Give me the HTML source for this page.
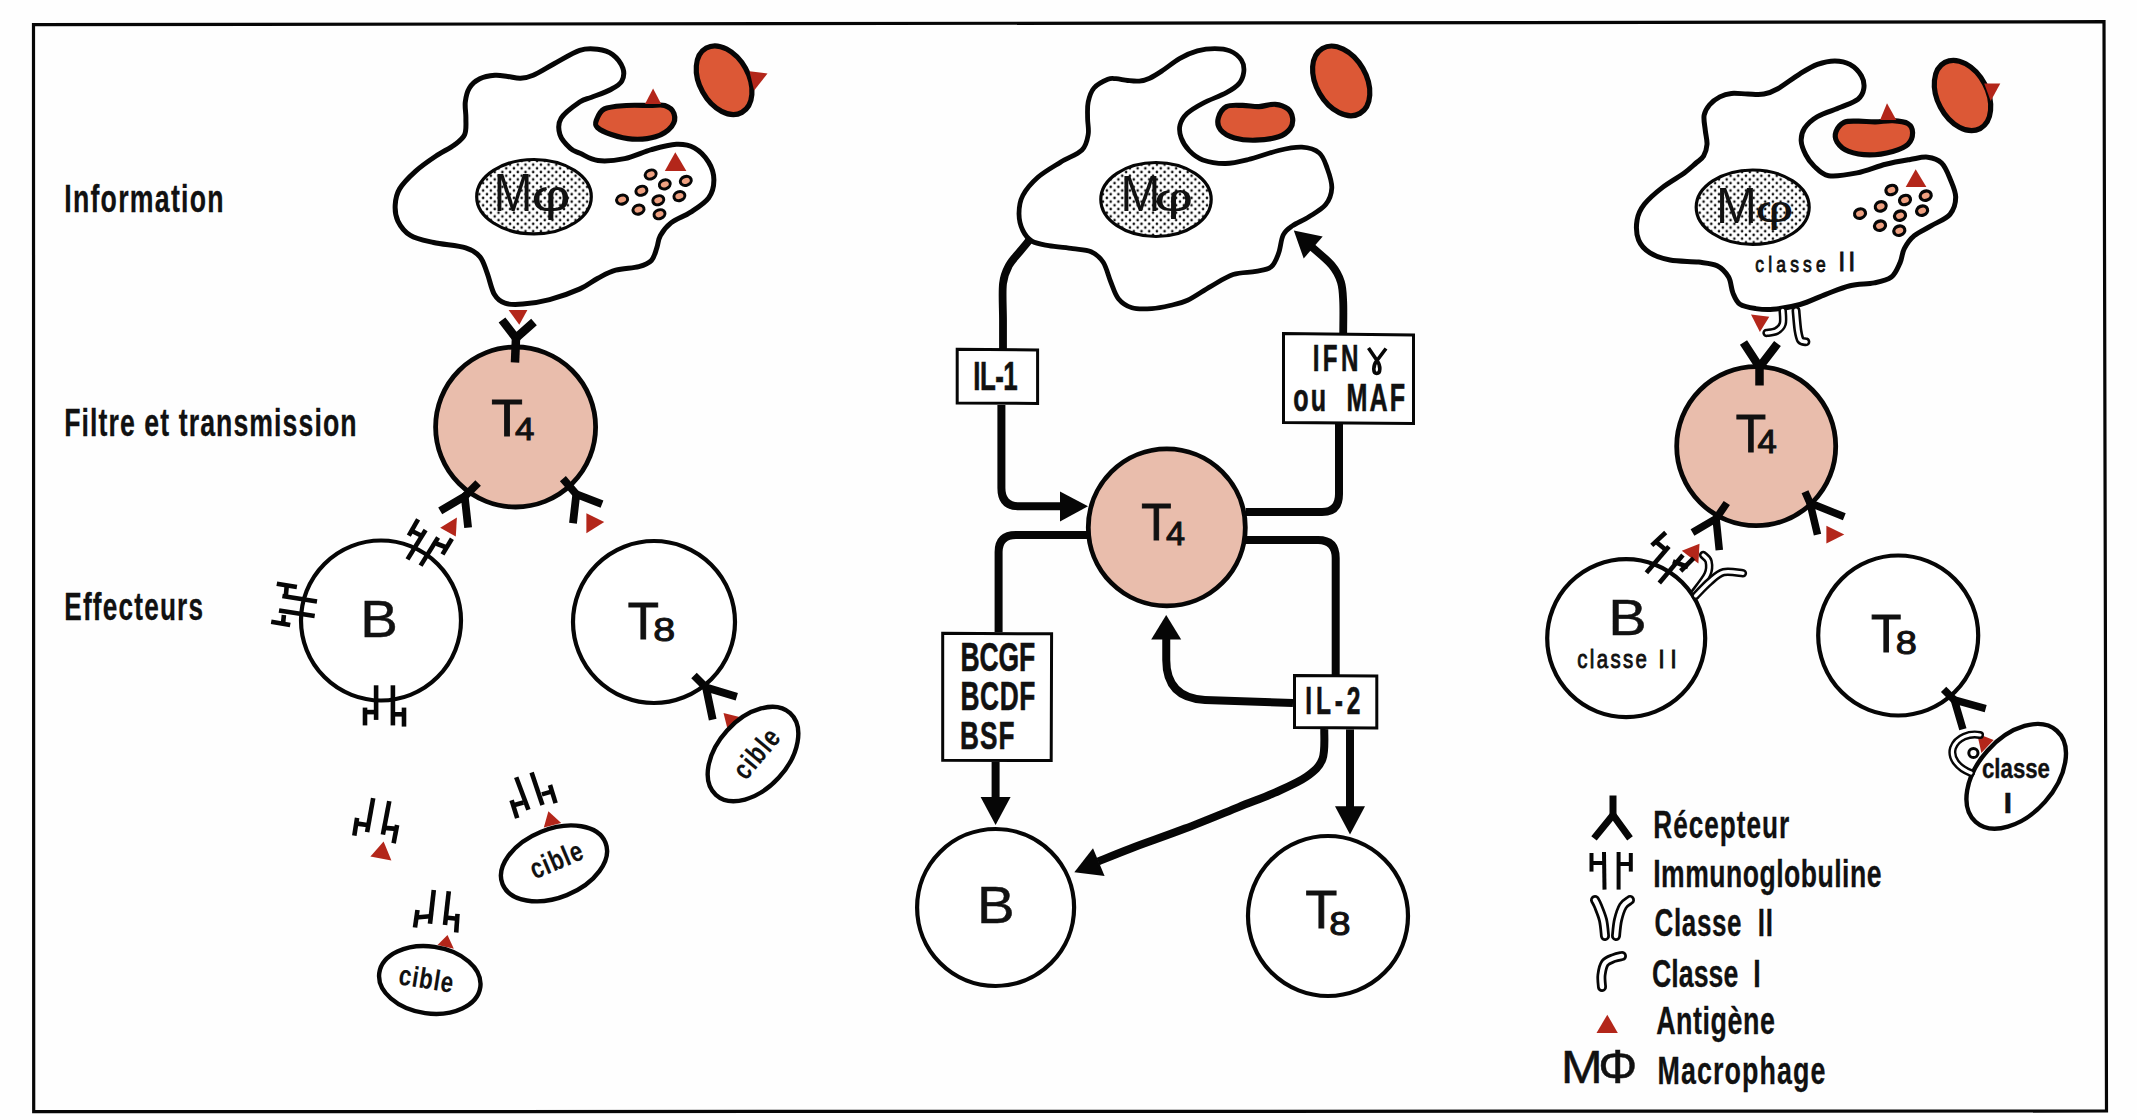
<!DOCTYPE html>
<html><head><meta charset="utf-8"><style>
html,body{margin:0;padding:0;background:#fff;}
svg{display:block;}
text{font-family:"Liberation Sans",sans-serif;font-kerning:none;}
</style></head><body>
<svg width="2137" height="1120" viewBox="0 0 2137 1120">
<defs>
<pattern id="dots" width="7.7" height="7.4" patternUnits="userSpaceOnUse">
<rect width="7.7" height="7.4" fill="#fff"/><circle cx="1.9" cy="1.85" r="1.3" fill="#111"/><circle cx="5.75" cy="5.55" r="1.3" fill="#111"/></pattern>
</defs>
<rect width="2137" height="1120" fill="#fefefe"/>
<polygon points="33.5,24.7 2104,21.7 2106.5,1111 33.7,1111.7" fill="none" stroke="#060606" stroke-width="3.2"/>
<text x="0" y="0" font-size="39.24" font-weight="bold" letter-spacing="1.865" fill="#111" stroke="#111" stroke-width="0.30" transform="translate(64.21 211.60) scale(0.6800 1)">Information</text>
<text x="0" y="0" font-size="39.24" font-weight="bold" letter-spacing="1.579" fill="#111" stroke="#111" stroke-width="0.30" transform="translate(64.21 436.00) scale(0.6800 1)">Filtre et transmission</text>
<text x="0" y="0" font-size="38.52" font-weight="bold" letter-spacing="1.754" fill="#111" stroke="#111" stroke-width="0.30" transform="translate(64.25 620.00) scale(0.6800 1)">Effecteurs</text>
<path d="M465.3,102.0 C465.9,97.0 467.0,91.9 469.4,88.0 C471.8,84.1 475.6,80.9 479.8,78.8 C484.1,76.7 490.2,75.7 494.9,75.3 C499.5,74.9 503.4,75.9 507.7,76.4 C512.0,76.9 516.2,78.4 520.5,78.2 C524.8,78.0 527.6,77.7 533.2,75.3 C538.8,72.9 546.4,67.9 554.1,63.7 C561.9,59.5 572.5,52.7 579.7,50.3 C586.9,47.9 591.9,48.5 597.4,49.2 C602.9,49.9 608.2,51.2 612.5,54.4 C616.8,57.6 621.4,63.8 622.9,68.3 C624.4,72.8 623.7,77.6 621.8,81.1 C619.9,84.6 616.3,86.5 611.3,89.2 C606.3,91.9 596.9,95.2 591.6,97.3 C586.3,99.4 584.8,98.5 579.7,102.0 C574.6,105.5 564.4,112.8 561.1,118.2 C557.8,123.6 558.4,129.5 559.9,134.5 C561.4,139.5 567.0,145.3 570.4,148.4 C573.8,151.5 575.4,151.2 580.0,153.2 C584.6,155.2 590.5,159.6 597.9,160.5 C605.3,161.4 615.7,160.4 624.6,158.6 C633.5,156.8 642.8,152.0 651.4,149.6 C660.0,147.2 669.2,144.6 676.4,144.3 C683.5,144.0 688.9,144.9 694.3,147.9 C699.7,150.9 705.3,156.8 708.6,162.1 C711.9,167.4 713.9,174.0 713.9,180.0 C713.9,186.0 712.5,192.6 708.6,197.9 C704.7,203.2 697.0,207.9 690.7,212.1 C684.4,216.3 676.0,219.0 671.0,222.9 C666.0,226.8 662.8,231.2 660.4,235.4 C658.0,239.6 658.3,243.7 656.8,247.9 C655.3,252.1 654.4,257.3 651.4,260.4 C648.4,263.5 644.8,265.0 638.9,266.6 C633.0,268.2 622.5,268.3 615.7,270.2 C608.9,272.1 603.9,275.1 597.9,278.2 C591.9,281.3 588.0,285.3 580.0,288.9 C572.0,292.5 559.1,297.1 549.6,299.6 C540.1,302.1 530.3,303.5 522.9,304.1 C515.5,304.7 509.8,304.8 505.0,303.2 C500.2,301.6 497.3,299.4 494.3,294.3 C491.3,289.2 489.5,279.1 487.1,272.9 C484.7,266.6 483.6,261.0 480.0,256.8 C476.4,252.6 473.4,250.3 465.7,247.9 C458.0,245.5 442.8,244.6 433.6,242.5 C424.4,240.4 416.3,239.0 410.4,235.4 C404.4,231.8 400.4,226.2 397.9,221.1 C395.4,216.0 394.9,210.4 395.2,205.0 C395.5,199.6 396.2,194.6 399.6,188.9 C403.0,183.2 409.6,176.6 415.7,171.1 C421.8,165.6 429.6,160.3 436.0,156.0 C442.4,151.7 449.5,148.6 454.3,145.0 C459.1,141.4 462.8,139.0 464.7,134.5 C466.6,130.0 465.8,123.6 465.9,118.2 C466.0,112.8 464.7,107.0 465.3,102.0Z" fill="#fff" stroke="#060606" stroke-width="5" stroke-linejoin="round" stroke-linecap="round" />
<ellipse cx="534.0" cy="196.7" rx="57.3" ry="37.2" transform="rotate(0.0 534.0 196.7)" fill="url(#dots)" stroke="#060606" stroke-width="3.2"/>
<text x="493.70" y="210.7" font-size="54.36" font-weight="normal" textLength="38.60" lengthAdjust="spacingAndGlyphs" fill="#111" stroke="#111" stroke-width="0">M</text>
<text x="531.27" y="210.7" font-size="43.60" font-weight="normal" textLength="39.60" lengthAdjust="spacingAndGlyphs" fill="#111" stroke="#111" stroke-width="0">φ</text>
<ellipse cx="650.7" cy="174.5" rx="5.6" ry="4.4" transform="rotate(-20.0 650.7 174.5)" fill="#eea080" stroke="#060606" stroke-width="3"/>
<ellipse cx="664.8" cy="184.4" rx="5.6" ry="4.4" transform="rotate(-20.0 664.8 184.4)" fill="#eea080" stroke="#060606" stroke-width="3"/>
<ellipse cx="685.8" cy="180.9" rx="5.6" ry="4.4" transform="rotate(-20.0 685.8 180.9)" fill="#eea080" stroke="#060606" stroke-width="3"/>
<ellipse cx="641.4" cy="190.8" rx="5.6" ry="4.4" transform="rotate(-20.0 641.4 190.8)" fill="#eea080" stroke="#060606" stroke-width="3"/>
<ellipse cx="622.1" cy="199.6" rx="5.6" ry="4.4" transform="rotate(-20.0 622.1 199.6)" fill="#eea080" stroke="#060606" stroke-width="3"/>
<ellipse cx="658.3" cy="200.2" rx="5.6" ry="4.4" transform="rotate(-20.0 658.3 200.2)" fill="#eea080" stroke="#060606" stroke-width="3"/>
<ellipse cx="679.4" cy="196.1" rx="5.6" ry="4.4" transform="rotate(-20.0 679.4 196.1)" fill="#eea080" stroke="#060606" stroke-width="3"/>
<ellipse cx="638.5" cy="209.6" rx="5.6" ry="4.4" transform="rotate(-20.0 638.5 209.6)" fill="#eea080" stroke="#060606" stroke-width="3"/>
<ellipse cx="659.5" cy="214.2" rx="5.6" ry="4.4" transform="rotate(-20.0 659.5 214.2)" fill="#eea080" stroke="#060606" stroke-width="3"/>
<polygon points="664.8,171.0 686.4,171.0 675.3,152.2" fill="#b3261a" stroke="none" stroke-width="0" stroke-linejoin="round"/>
<path d="M596.3,120.5 C597.5,117.4 599.4,111.4 604.4,108.9 C609.4,106.4 618.9,106.1 626.4,105.5 C633.9,104.9 643.2,105.5 649.6,105.5 C656.0,105.5 660.6,104.2 664.7,105.5 C668.8,106.8 672.8,110.1 674.0,113.6 C675.2,117.1 674.8,122.4 671.7,126.3 C668.6,130.2 662.1,134.7 655.5,136.8 C648.9,138.9 639.6,139.5 632.2,139.1 C624.8,138.7 617.1,136.4 611.3,134.5 C605.5,132.6 599.9,129.8 597.4,127.5 C594.9,125.2 595.1,123.6 596.3,120.5Z" fill="#dc5836" stroke="#060606" stroke-width="5.2" stroke-linejoin="round" stroke-linecap="round" />
<polygon points="645.0,104.0 661.2,104.0 653.1,88.6" fill="#b3261a" stroke="none" stroke-width="0" stroke-linejoin="round"/>
<ellipse cx="724.1" cy="80.2" rx="36.8" ry="24.5" transform="rotate(61.0 724.1 80.2)" fill="#dc5836" stroke="#060606" stroke-width="5.2"/>
<polygon points="749.5,71.2 767.5,73.5 754.1,90.4" fill="#b3261a" stroke="none" stroke-width="0" stroke-linejoin="round"/>
<circle cx="515.6" cy="427.0" r="80.0" fill="#e9bdac" stroke="#060606" stroke-width="4.8"/>
<polygon points="508.6,310.0 527.4,310.0 519.3,324.7" fill="#b3261a" stroke="none" stroke-width="0" stroke-linejoin="round"/>
<polyline points="502.0,320.0 516.0,338.0 534.0,322.0" fill="none" stroke="#060606" stroke-width="8.5" stroke-linecap="butt" stroke-linejoin="miter"/>
<polyline points="516.0,338.0 515.0,362.5" fill="none" stroke="#060606" stroke-width="8.5" stroke-linecap="butt" stroke-linejoin="miter"/>
<text x="491.14" y="436.3" font-size="52.18" font-weight="normal" textLength="31.55" lengthAdjust="spacingAndGlyphs" fill="#111" stroke="#111" stroke-width="1.0">T</text>
<text x="514.90" y="440.0" font-size="31.40" font-weight="normal" textLength="19.42" lengthAdjust="spacingAndGlyphs" fill="#111" stroke="#111" stroke-width="1.0">4</text>
<polyline points="478.1,483.0 464.7,496.4" fill="none" stroke="#060606" stroke-width="7.8" stroke-linecap="butt" stroke-linejoin="miter"/>
<polyline points="440.2,510.9 464.7,496.4 468.1,527.7" fill="none" stroke="#060606" stroke-width="7.8" stroke-linecap="butt" stroke-linejoin="miter"/>
<polyline points="562.9,478.6 576.3,494.2" fill="none" stroke="#060606" stroke-width="7.8" stroke-linecap="butt" stroke-linejoin="miter"/>
<polyline points="602.0,504.2 576.3,494.2 573.0,523.2" fill="none" stroke="#060606" stroke-width="7.8" stroke-linecap="butt" stroke-linejoin="miter"/>
<polygon points="586.4,513.2 586.4,533.3 604.2,522.1" fill="#b3261a" stroke="none" stroke-width="0" stroke-linejoin="round"/>
<polygon points="440.2,527.7 456.9,517.6 455.8,536.6" fill="#b3261a" stroke="none" stroke-width="0" stroke-linejoin="round"/>
<circle cx="381.0" cy="620.5" r="80.0" fill="#fff" stroke="#060606" stroke-width="4.2"/>
<text x="360.38" y="637.0" font-size="51.60" font-weight="normal" textLength="37.60" lengthAdjust="spacingAndGlyphs" fill="#111" stroke="#111" stroke-width="0.5">B</text>
<polyline points="376.1,685.3 376.1,719.9" fill="none" stroke="#060606" stroke-width="4.6" stroke-linecap="butt" stroke-linejoin="miter"/>
<polyline points="392.9,685.3 392.9,725.4" fill="none" stroke="#060606" stroke-width="4.6" stroke-linecap="butt" stroke-linejoin="miter"/>
<polyline points="365.0,712.1 376.1,712.1" fill="none" stroke="#060606" stroke-width="4.6" stroke-linecap="butt" stroke-linejoin="miter"/>
<polyline points="365.0,707.6 365.0,725.4" fill="none" stroke="#060606" stroke-width="4.6" stroke-linecap="butt" stroke-linejoin="miter"/>
<polyline points="392.9,714.3 404.0,714.3" fill="none" stroke="#060606" stroke-width="4.6" stroke-linecap="butt" stroke-linejoin="miter"/>
<polyline points="404.0,707.6 404.0,726.6" fill="none" stroke="#060606" stroke-width="4.6" stroke-linecap="butt" stroke-linejoin="miter"/>
<polyline points="276.8,583.7 296.9,587.1" fill="none" stroke="#060606" stroke-width="4.6" stroke-linecap="butt" stroke-linejoin="miter"/>
<polyline points="282.4,596.0 317.0,601.6" fill="none" stroke="#060606" stroke-width="4.6" stroke-linecap="butt" stroke-linejoin="miter"/>
<polyline points="279.0,610.5 314.7,616.1" fill="none" stroke="#060606" stroke-width="4.6" stroke-linecap="butt" stroke-linejoin="miter"/>
<polyline points="271.2,621.7 290.2,625.0" fill="none" stroke="#060606" stroke-width="4.6" stroke-linecap="butt" stroke-linejoin="miter"/>
<polyline points="286.8,585.3 285.7,597.1" fill="none" stroke="#060606" stroke-width="4.6" stroke-linecap="butt" stroke-linejoin="miter"/>
<polyline points="283.9,615.0 283.0,624.1" fill="none" stroke="#060606" stroke-width="4.6" stroke-linecap="butt" stroke-linejoin="miter"/>
<polyline points="425.6,530.0 407.5,559.4" fill="none" stroke="#060606" stroke-width="4.6" stroke-linecap="butt" stroke-linejoin="miter"/>
<polyline points="418.1,519.4 408.8,535.6" fill="none" stroke="#060606" stroke-width="4.6" stroke-linecap="butt" stroke-linejoin="miter"/>
<polyline points="412.5,531.2 421.0,535.5" fill="none" stroke="#060606" stroke-width="4.6" stroke-linecap="butt" stroke-linejoin="miter"/>
<polyline points="438.1,537.5 420.6,565.6" fill="none" stroke="#060606" stroke-width="4.6" stroke-linecap="butt" stroke-linejoin="miter"/>
<polyline points="451.9,538.8 442.5,554.4" fill="none" stroke="#060606" stroke-width="4.6" stroke-linecap="butt" stroke-linejoin="miter"/>
<polyline points="436.2,543.5 446.5,547.5" fill="none" stroke="#060606" stroke-width="4.6" stroke-linecap="butt" stroke-linejoin="miter"/>
<circle cx="654.0" cy="622.0" r="81.0" fill="#fff" stroke="#060606" stroke-width="4.2"/>
<text x="627.86" y="638.5" font-size="51.74" font-weight="normal" textLength="31.11" lengthAdjust="spacingAndGlyphs" fill="#111" stroke="#111" stroke-width="1.0">T</text>
<text x="653.29" y="641.3" font-size="33.72" font-weight="normal" textLength="21.93" lengthAdjust="spacingAndGlyphs" fill="#111" stroke="#111" stroke-width="1.0">8</text>
<polyline points="694.0,675.4 706.0,687.5" fill="none" stroke="#060606" stroke-width="7.8" stroke-linecap="butt" stroke-linejoin="miter"/>
<polyline points="736.8,696.8 706.0,687.5 712.7,719.6" fill="none" stroke="#060606" stroke-width="7.8" stroke-linecap="butt" stroke-linejoin="miter"/>
<polygon points="723.5,713.0 739.5,717.0 727.5,729.0" fill="#b3261a" stroke="none" stroke-width="0" stroke-linejoin="round"/>
<ellipse cx="753.0" cy="754.0" rx="55.2" ry="35.0" transform="rotate(-47.7 753.0 754.0)" fill="#fff" stroke="#060606" stroke-width="4.4"/>
<text x="0" y="0" font-size="28.50" font-weight="bold" letter-spacing="1.593" fill="#111" stroke="#111" stroke-width="0.15" transform="rotate(-50.0 758.0 755.0) translate(730.13 762.52) scale(0.7800 1)">cible</text>
<polyline points="373.2,798.2 367.1,832.1" fill="none" stroke="#060606" stroke-width="4.6" stroke-linecap="butt" stroke-linejoin="miter"/>
<polyline points="357.1,817.9 354.3,835.7" fill="none" stroke="#060606" stroke-width="4.6" stroke-linecap="butt" stroke-linejoin="miter"/>
<polyline points="357.5,823.6 367.1,825.0" fill="none" stroke="#060606" stroke-width="4.6" stroke-linecap="butt" stroke-linejoin="miter"/>
<polyline points="389.3,801.1 382.9,834.6" fill="none" stroke="#060606" stroke-width="4.6" stroke-linecap="butt" stroke-linejoin="miter"/>
<polyline points="397.1,825.0 393.6,843.2" fill="none" stroke="#060606" stroke-width="4.6" stroke-linecap="butt" stroke-linejoin="miter"/>
<polyline points="385.0,827.9 396.4,828.9" fill="none" stroke="#060606" stroke-width="4.6" stroke-linecap="butt" stroke-linejoin="miter"/>
<polygon points="370.4,856.4 383.6,841.4 391.4,860.4" fill="#b3261a" stroke="none" stroke-width="0" stroke-linejoin="round"/>
<polyline points="516.2,777.2 528.4,809.7" fill="none" stroke="#060606" stroke-width="4.6" stroke-linecap="butt" stroke-linejoin="miter"/>
<polyline points="511.6,800.3 517.2,818.1" fill="none" stroke="#060606" stroke-width="4.6" stroke-linecap="butt" stroke-linejoin="miter"/>
<polyline points="514.4,805.0 523.4,802.5" fill="none" stroke="#060606" stroke-width="4.6" stroke-linecap="butt" stroke-linejoin="miter"/>
<polyline points="531.6,772.5 542.5,805.0" fill="none" stroke="#060606" stroke-width="4.6" stroke-linecap="butt" stroke-linejoin="miter"/>
<polyline points="550.0,785.0 555.6,803.1" fill="none" stroke="#060606" stroke-width="4.6" stroke-linecap="butt" stroke-linejoin="miter"/>
<polyline points="541.9,794.4 550.6,791.9" fill="none" stroke="#060606" stroke-width="4.6" stroke-linecap="butt" stroke-linejoin="miter"/>
<polygon points="543.8,827.5 548.4,811.2 561.2,823.1" fill="#b3261a" stroke="none" stroke-width="0" stroke-linejoin="round"/>
<ellipse cx="554.0" cy="863.4" rx="55.5" ry="34.2" transform="rotate(-22.0 554.0 863.4)" fill="#fff" stroke="#060606" stroke-width="4.4"/>
<text x="0" y="0" font-size="28.50" font-weight="bold" letter-spacing="1.273" fill="#111" stroke="#111" stroke-width="0.15" transform="rotate(-23.0 557.0 862.0) translate(529.63 869.52) scale(0.7800 1)">cible</text>
<polyline points="433.8,890.0 430.0,923.8" fill="none" stroke="#060606" stroke-width="4.6" stroke-linecap="butt" stroke-linejoin="miter"/>
<polyline points="417.5,910.0 415.0,927.5" fill="none" stroke="#060606" stroke-width="4.6" stroke-linecap="butt" stroke-linejoin="miter"/>
<polyline points="416.2,917.5 430.0,916.2" fill="none" stroke="#060606" stroke-width="4.6" stroke-linecap="butt" stroke-linejoin="miter"/>
<polyline points="448.8,891.2 445.0,925.0" fill="none" stroke="#060606" stroke-width="4.6" stroke-linecap="butt" stroke-linejoin="miter"/>
<polyline points="457.5,913.8 456.2,932.5" fill="none" stroke="#060606" stroke-width="4.6" stroke-linecap="butt" stroke-linejoin="miter"/>
<polyline points="445.0,917.5 457.5,918.8" fill="none" stroke="#060606" stroke-width="4.6" stroke-linecap="butt" stroke-linejoin="miter"/>
<polygon points="437.5,945.0 447.5,935.0 453.8,948.8" fill="#b3261a" stroke="none" stroke-width="0" stroke-linejoin="round"/>
<ellipse cx="429.8" cy="980.0" rx="51.0" ry="33.5" transform="rotate(8.0 429.8 980.0)" fill="#fff" stroke="#060606" stroke-width="4.4"/>
<text x="0" y="0" font-size="28.50" font-weight="bold" letter-spacing="1.273" fill="#111" stroke="#111" stroke-width="0.15" transform="rotate(9.0 426.0 981.0) translate(398.63 988.52) scale(0.7800 1)">cible</text>
<path d="M1088.2,102.0 C1089.3,97.0 1090.7,91.8 1094.0,88.0 C1097.3,84.2 1104.2,80.8 1107.9,79.3 C1111.6,77.8 1112.7,78.5 1116.0,78.7 C1119.3,78.9 1123.8,80.1 1127.7,80.5 C1131.6,80.9 1135.6,81.5 1139.3,81.1 C1143.0,80.7 1145.8,80.0 1149.7,78.2 C1153.6,76.5 1157.5,73.9 1162.5,70.6 C1167.5,67.3 1174.1,61.7 1179.9,58.4 C1185.7,55.1 1191.6,52.5 1197.4,50.9 C1203.2,49.3 1209.4,48.6 1214.8,48.6 C1220.2,48.6 1225.5,49.0 1229.9,50.9 C1234.4,52.8 1239.2,56.7 1241.5,60.2 C1243.8,63.7 1244.2,67.9 1243.8,71.8 C1243.4,75.7 1242.1,79.9 1239.2,83.4 C1236.3,86.9 1232.4,89.4 1226.4,92.7 C1220.4,96.0 1209.8,99.6 1203.2,103.1 C1196.6,106.6 1190.9,109.9 1187.0,113.6 C1183.1,117.3 1181.0,121.2 1180.0,125.2 C1179.0,129.2 1179.7,133.7 1181.2,137.9 C1182.8,142.2 1185.7,147.0 1189.3,150.7 C1192.9,154.4 1196.8,157.9 1202.8,160.0 C1208.8,162.1 1217.9,163.6 1225.5,163.5 C1233.1,163.4 1239.5,161.7 1248.3,159.5 C1257.1,157.3 1269.7,152.6 1278.6,150.5 C1287.5,148.4 1295.1,146.8 1301.9,147.2 C1308.7,147.6 1315.1,149.5 1319.3,153.0 C1323.5,156.5 1325.1,162.4 1327.2,168.2 C1329.3,174.0 1332.0,181.8 1331.8,187.9 C1331.5,194.0 1329.5,199.8 1325.7,204.6 C1321.9,209.4 1314.6,213.2 1309.0,216.8 C1303.4,220.4 1296.6,222.9 1292.3,225.9 C1288.0,228.9 1285.5,230.4 1283.2,235.0 C1280.9,239.6 1280.6,247.9 1278.6,253.2 C1276.6,258.5 1274.9,263.9 1271.1,266.9 C1267.3,269.9 1262.2,270.1 1255.9,271.4 C1249.6,272.7 1240.7,272.0 1233.1,274.5 C1225.5,277.0 1218.0,282.3 1210.4,286.6 C1202.8,290.9 1194.3,297.2 1187.6,300.3 C1180.9,303.4 1176.0,304.1 1170.0,305.5 C1164.0,306.9 1158.1,308.2 1151.8,308.6 C1145.5,309.0 1137.6,309.5 1132.0,307.8 C1126.4,306.1 1121.9,303.0 1118.4,298.7 C1114.9,294.4 1113.3,288.1 1110.8,282.0 C1108.3,275.9 1106.5,267.4 1103.2,262.3 C1099.9,257.2 1096.2,254.0 1091.1,251.7 C1086.0,249.4 1079.9,249.6 1072.8,248.6 C1065.7,247.6 1055.4,246.8 1048.6,245.6 C1041.8,244.3 1036.2,243.6 1031.9,241.1 C1027.6,238.6 1025.0,235.0 1022.8,230.4 C1020.6,225.8 1019.0,219.5 1019.0,213.7 C1019.0,207.9 1019.6,201.6 1022.8,195.5 C1026.0,189.4 1031.6,182.9 1037.9,177.3 C1044.2,171.7 1053.4,166.7 1060.7,162.1 C1068.0,157.5 1077.4,154.6 1082.0,150.0 C1086.6,145.4 1087.3,139.7 1088.2,134.4 C1089.1,129.1 1087.6,123.6 1087.6,118.2 C1087.6,112.8 1087.1,107.0 1088.2,102.0Z" fill="#fff" stroke="#060606" stroke-width="4.8" stroke-linejoin="round" stroke-linecap="round" />
<ellipse cx="1156.0" cy="199.5" rx="55.2" ry="37.0" transform="rotate(0.0 1156.0 199.5)" fill="url(#dots)" stroke="#060606" stroke-width="3.2"/>
<text x="1120.48" y="211.3" font-size="49.42" font-weight="normal" textLength="39.85" lengthAdjust="spacingAndGlyphs" fill="#111" stroke="#111" stroke-width="0">M</text>
<text x="1154.30" y="211.3" font-size="39.24" font-weight="normal" textLength="39.03" lengthAdjust="spacingAndGlyphs" fill="#111" stroke="#111" stroke-width="0">φ</text>
<path d="M1218.3,118.2 C1219.3,114.3 1222.3,108.7 1226.4,106.6 C1230.5,104.5 1237.3,105.4 1242.7,105.4 C1248.1,105.4 1253.5,106.8 1258.9,106.6 C1264.3,106.4 1270.4,103.9 1275.2,104.3 C1280.0,104.7 1285.0,106.6 1287.9,108.9 C1290.8,111.2 1292.2,114.9 1292.6,118.2 C1293.0,121.5 1292.5,125.5 1290.2,128.6 C1287.9,131.7 1284.4,134.9 1278.6,136.8 C1272.8,138.7 1262.8,140.0 1255.4,140.2 C1248.1,140.4 1240.3,139.6 1234.5,137.9 C1228.7,136.2 1223.3,133.1 1220.6,129.8 C1217.9,126.5 1217.3,122.1 1218.3,118.2Z" fill="#dc5836" stroke="#060606" stroke-width="5.2" stroke-linejoin="round" stroke-linecap="round" />
<ellipse cx="1341.2" cy="80.9" rx="37.5" ry="25.0" transform="rotate(60.0 1341.2 80.9)" fill="#dc5836" stroke="#060606" stroke-width="5.2"/>
<path d="M1003.0,349.0 C1003.0,344.2 1003.0,330.9 1003.0,320.0 C1003.0,309.1 1002.0,292.7 1003.0,283.6 C1004.0,274.5 1006.3,270.6 1009.1,265.3 C1011.9,260.0 1016.4,255.8 1019.7,251.7 C1023.0,247.6 1027.5,242.4 1029.0,240.5" fill="none" stroke="#060606" stroke-width="7.8" stroke-linejoin="round" stroke-linecap="butt" />
<polygon points="957.2,349.2 1037.6,350 1037.6,403.4 957.2,403" fill="#fff" stroke="#060606" stroke-width="3"/>
<text x="0" y="0" font-size="40.41" font-weight="bold" letter-spacing="-0.847" fill="#111" stroke="#111" stroke-width="0.60" transform="translate(973.27 390.00) scale(0.6400 1)">IL-1</text>
<path d="M1001.4,404.9 L1001.4,488 Q1001.4,506.3 1019,506.3 L1062,506.3" fill="none" stroke="#060606" stroke-width="8" stroke-linejoin="round" stroke-linecap="butt" />
<polygon points="1060.0,491.4 1060.0,521.4 1088.0,506.3" fill="#060606" stroke="none" stroke-width="0" stroke-linejoin="round"/>
<polygon points="1283.5,333.5 1413.5,335 1413.5,423.5 1283.5,422.5" fill="#fff" stroke="#060606" stroke-width="3"/>
<text x="0" y="0" font-size="37.79" font-weight="bold" letter-spacing="5.303" fill="#111" stroke="#111" stroke-width="0.60" transform="translate(1312.68 371.40) scale(0.6400 1)">IFN</text>
<path d="M1368.5,348 L1377,360.5 M1386,348.5 L1377,360.5 C1372.5,366 1373,373.5 1376.8,373.5 C1380.6,373.5 1381,366 1377,360.5" fill="none" stroke="#060606" stroke-width="3.6" stroke-linejoin="round" stroke-linecap="butt" />
<text x="0" y="0" font-size="39.24" font-weight="bold" letter-spacing="3.349" fill="#111" stroke="#111" stroke-width="0.60" transform="translate(1293.32 411.40) scale(0.6400 1)">ou  MAF</text>
<path d="M1343.2,333.0 C1343.2,327.8 1343.6,310.3 1343.2,301.8 C1342.8,293.3 1342.8,288.1 1340.9,282.0 C1339.0,275.9 1336.6,271.1 1331.8,265.3 C1327.0,259.5 1316.3,251.0 1312.0,247.1 C1307.7,243.2 1307.0,242.8 1306.0,242.0" fill="none" stroke="#060606" stroke-width="7.8" stroke-linejoin="round" stroke-linecap="butt" />
<polygon points="1293.8,230.4 1303.7,258.5 1322.7,236.5" fill="#060606" stroke="none" stroke-width="0" stroke-linejoin="round"/>
<path d="M1245.7,512 L1322,512 Q1339,512 1339,494 L1339,424" fill="none" stroke="#060606" stroke-width="8" stroke-linejoin="round" stroke-linecap="butt" />
<circle cx="1166.8" cy="527.4" r="78.5" fill="#e9bdac" stroke="#060606" stroke-width="4.8"/>
<text x="1141.29" y="539.7" font-size="52.33" font-weight="normal" textLength="30.25" lengthAdjust="spacingAndGlyphs" fill="#111" stroke="#111" stroke-width="1.0">T</text>
<text x="1165.91" y="544.7" font-size="33.43" font-weight="normal" textLength="19.09" lengthAdjust="spacingAndGlyphs" fill="#111" stroke="#111" stroke-width="1.0">4</text>
<path d="M1088,534.9 L1016,534.9 Q998.6,534.9 998.6,552 L998.6,632" fill="none" stroke="#060606" stroke-width="8" stroke-linejoin="round" stroke-linecap="butt" />
<polygon points="942.7,633.3 1051.6,633.8 1051.2,760.6 942.7,760.2" fill="#fff" stroke="#060606" stroke-width="3"/>
<text x="0" y="0" font-size="40.12" font-weight="bold" letter-spacing="-0.135" fill="#111" stroke="#111" stroke-width="0.60" transform="translate(960.53 671.30) scale(0.6600 1)">BCGF</text>
<text x="0" y="0" font-size="39.83" font-weight="bold" letter-spacing="0.868" fill="#111" stroke="#111" stroke-width="0.60" transform="translate(960.54 709.80) scale(0.6600 1)">BCDF</text>
<text x="0" y="0" font-size="39.68" font-weight="bold" letter-spacing="1.692" fill="#111" stroke="#111" stroke-width="0.60" transform="translate(959.95 748.80) scale(0.6600 1)">BSF</text>
<polyline points="995.6,762.0 995.6,798.0" fill="none" stroke="#060606" stroke-width="8" stroke-linecap="butt" stroke-linejoin="miter"/>
<polygon points="980.6,796.9 1010.6,796.9 995.6,825.0" fill="#060606" stroke="none" stroke-width="0" stroke-linejoin="round"/>
<circle cx="995.6" cy="907.5" r="78.5" fill="#fff" stroke="#060606" stroke-width="4.2"/>
<text x="977.13" y="922.5" font-size="51.74" font-weight="normal" textLength="37.60" lengthAdjust="spacingAndGlyphs" fill="#111" stroke="#111" stroke-width="0.5">B</text>
<circle cx="1328.0" cy="916.0" r="80.0" fill="#fff" stroke="#060606" stroke-width="4.2"/>
<text x="1305.53" y="927.6" font-size="52.91" font-weight="normal" textLength="31.76" lengthAdjust="spacingAndGlyphs" fill="#111" stroke="#111" stroke-width="1.0">T</text>
<text x="1329.33" y="934.7" font-size="34.01" font-weight="normal" textLength="21.33" lengthAdjust="spacingAndGlyphs" fill="#111" stroke="#111" stroke-width="1.0">8</text>
<path d="M1245.7,540 L1318,540 Q1335.7,540 1335.7,558 L1335.7,675" fill="none" stroke="#060606" stroke-width="8" stroke-linejoin="round" stroke-linecap="butt" />
<polygon points="1294.5,675.5 1376.8,676 1376.8,728 1294.5,727.5" fill="#fff" stroke="#060606" stroke-width="3"/>
<text x="0" y="0" font-size="38.37" font-weight="bold" letter-spacing="5.972" fill="#111" stroke="#111" stroke-width="0.60" transform="translate(1305.26 714.40) scale(0.6400 1)">IL-2</text>
<path d="M1293,703 L1205,700 Q1166.25,698 1166.25,660 L1166.25,638" fill="none" stroke="#060606" stroke-width="8" stroke-linejoin="round" stroke-linecap="butt" />
<polygon points="1151.2,639.4 1181.2,639.4 1166.2,615.0" fill="#060606" stroke="none" stroke-width="0" stroke-linejoin="round"/>
<polyline points="1350.0,729.4 1350.0,808.0" fill="none" stroke="#060606" stroke-width="8" stroke-linecap="butt" stroke-linejoin="miter"/>
<polygon points="1335.0,806.2 1365.0,806.2 1350.0,834.4" fill="#060606" stroke="none" stroke-width="0" stroke-linejoin="round"/>
<path d="M1324.3,729.0 C1324.0,734.0 1325.5,750.9 1322.5,758.9 C1319.5,766.9 1314.4,771.1 1306.4,776.8 C1298.4,782.5 1285.6,787.8 1274.3,792.9 C1263.0,798.0 1253.5,801.1 1238.6,807.1 C1223.7,813.1 1202.9,821.8 1185.0,828.6 C1167.1,835.5 1145.9,842.7 1131.4,848.2 C1116.9,853.7 1103.6,859.3 1098.0,861.5" fill="none" stroke="#060606" stroke-width="8" stroke-linejoin="round" stroke-linecap="butt" />
<polygon points="1074.3,872.3 1093.0,848.2 1104.6,875.9" fill="#060606" stroke="none" stroke-width="0" stroke-linejoin="round"/>
<path d="M1704.1,115.4 C1704.8,111.2 1706.8,108.1 1709.4,105.0 C1712.0,101.9 1716.1,98.8 1719.8,96.9 C1723.5,95.0 1726.8,93.9 1731.4,93.4 C1736.1,92.9 1742.3,93.9 1747.7,94.0 C1753.1,94.1 1758.9,94.9 1763.9,94.0 C1768.9,93.1 1771.8,92.1 1777.8,88.7 C1783.8,85.3 1793.3,77.8 1799.9,73.8 C1806.5,69.8 1811.6,66.6 1817.4,64.4 C1823.2,62.3 1829.4,60.9 1834.8,60.9 C1840.2,60.9 1845.5,61.9 1849.9,64.4 C1854.4,66.9 1859.2,72.0 1861.5,76.0 C1863.8,80.0 1864.4,84.8 1863.8,88.7 C1863.2,92.6 1861.9,96.1 1858.0,99.2 C1854.1,102.3 1847.4,104.4 1840.6,107.3 C1833.8,110.2 1823.4,113.1 1817.4,116.6 C1811.4,120.1 1807.3,124.1 1804.6,128.2 C1801.9,132.3 1801.0,136.6 1801.2,141.0 C1801.4,145.4 1803.7,150.7 1805.8,154.9 C1807.9,159.1 1810.2,162.5 1814.0,166.0 C1817.8,169.5 1821.4,174.5 1828.6,175.7 C1835.8,176.8 1847.6,174.8 1857.1,172.9 C1866.6,171.0 1876.8,166.5 1885.7,164.3 C1894.6,162.1 1903.2,160.7 1910.2,159.5 C1917.2,158.3 1922.5,156.6 1927.7,157.2 C1932.9,157.8 1937.9,159.4 1941.6,163.0 C1945.3,166.6 1947.7,172.9 1950.0,178.6 C1952.3,184.3 1955.7,191.1 1955.7,197.1 C1955.7,203.1 1954.0,209.5 1950.0,214.3 C1946.0,219.1 1937.4,222.1 1931.4,225.7 C1925.5,229.3 1918.8,231.9 1914.3,235.7 C1909.8,239.5 1906.7,244.1 1904.3,248.6 C1901.9,253.1 1902.2,258.1 1900.0,262.9 C1897.8,267.6 1895.7,273.8 1891.4,277.1 C1887.1,280.4 1881.2,281.5 1874.3,282.9 C1867.4,284.3 1858.1,283.8 1850.0,285.7 C1841.9,287.6 1834.0,291.2 1825.7,294.3 C1817.4,297.4 1808.8,302.0 1800.0,304.5 C1791.2,307.0 1780.3,308.6 1772.9,309.3 C1765.5,310.0 1761.2,309.4 1755.7,308.6 C1750.2,307.8 1743.8,306.9 1740.0,304.3 C1736.2,301.7 1734.8,297.4 1732.9,292.9 C1731.0,288.4 1731.2,281.6 1728.6,277.1 C1726.0,272.6 1722.1,268.2 1717.1,265.7 C1712.1,263.2 1706.4,263.1 1698.6,262.1 C1690.8,261.2 1678.1,261.5 1670.0,260.0 C1661.9,258.5 1655.2,256.2 1650.0,252.9 C1644.8,249.6 1640.8,245.5 1638.6,240.0 C1636.4,234.5 1636.1,225.9 1637.1,220.0 C1638.0,214.1 1640.0,209.8 1644.3,204.3 C1648.6,198.8 1656.2,192.3 1662.9,187.1 C1669.6,181.9 1678.8,176.9 1684.3,172.9 C1689.8,168.9 1692.8,165.8 1696.0,163.0 C1699.2,160.2 1701.8,159.1 1703.6,156.0 C1705.4,152.9 1706.7,148.7 1707.0,144.4 C1707.3,140.2 1705.8,135.3 1705.3,130.5 C1704.8,125.7 1703.4,119.7 1704.1,115.4Z" fill="#fff" stroke="#060606" stroke-width="5" stroke-linejoin="round" stroke-linecap="round" />
<ellipse cx="1752.7" cy="207.2" rx="56.5" ry="37.2" transform="rotate(0.0 1752.7 207.2)" fill="url(#dots)" stroke="#060606" stroke-width="3.2"/>
<text x="1715.97" y="222.9" font-size="49.85" font-weight="normal" textLength="40.97" lengthAdjust="spacingAndGlyphs" fill="#111" stroke="#111" stroke-width="0">M</text>
<text x="1755.12" y="221.7" font-size="37.79" font-weight="normal" textLength="38.68" lengthAdjust="spacingAndGlyphs" fill="#111" stroke="#111" stroke-width="0">φ</text>
<text x="0" y="0" font-size="22.38" font-weight="normal" letter-spacing="5.392" fill="#111" stroke="#111" stroke-width="0.90" transform="translate(1755.26 271.50) scale(0.7800 1)">classe</text>
<text x="0" y="0" font-size="28.20" font-weight="normal" letter-spacing="3.092" fill="#111" stroke="#111" stroke-width="0.90" transform="translate(1838.36 271.40) scale(0.9000 1)">II</text>
<ellipse cx="1891.4" cy="190.0" rx="5.6" ry="4.6" transform="rotate(-20.0 1891.4 190.0)" fill="#eea080" stroke="#060606" stroke-width="3.2"/>
<ellipse cx="1905.0" cy="200.0" rx="5.6" ry="4.6" transform="rotate(-20.0 1905.0 200.0)" fill="#eea080" stroke="#060606" stroke-width="3.2"/>
<ellipse cx="1925.7" cy="195.7" rx="5.6" ry="4.6" transform="rotate(-20.0 1925.7 195.7)" fill="#eea080" stroke="#060606" stroke-width="3.2"/>
<ellipse cx="1880.7" cy="206.4" rx="5.6" ry="4.6" transform="rotate(-20.0 1880.7 206.4)" fill="#eea080" stroke="#060606" stroke-width="3.2"/>
<ellipse cx="1860.0" cy="213.6" rx="5.6" ry="4.6" transform="rotate(-20.0 1860.0 213.6)" fill="#eea080" stroke="#060606" stroke-width="3.2"/>
<ellipse cx="1900.0" cy="215.7" rx="5.6" ry="4.6" transform="rotate(-20.0 1900.0 215.7)" fill="#eea080" stroke="#060606" stroke-width="3.2"/>
<ellipse cx="1922.1" cy="210.7" rx="5.6" ry="4.6" transform="rotate(-20.0 1922.1 210.7)" fill="#eea080" stroke="#060606" stroke-width="3.2"/>
<ellipse cx="1880.0" cy="225.7" rx="5.6" ry="4.6" transform="rotate(-20.0 1880.0 225.7)" fill="#eea080" stroke="#060606" stroke-width="3.2"/>
<ellipse cx="1899.3" cy="230.7" rx="5.6" ry="4.6" transform="rotate(-20.0 1899.3 230.7)" fill="#eea080" stroke="#060606" stroke-width="3.2"/>
<path d="M1836.0,131.7 C1837.2,128.4 1840.4,124.2 1844.1,122.4 C1847.8,120.7 1852.8,121.3 1858.0,121.2 C1863.2,121.1 1869.6,121.9 1875.4,121.8 C1881.2,121.7 1887.4,120.4 1892.8,120.7 C1898.2,121.0 1904.6,121.6 1907.9,123.6 C1911.2,125.6 1912.6,129.3 1912.6,132.8 C1912.6,136.3 1911.2,141.3 1907.9,144.4 C1904.6,147.5 1899.2,149.7 1892.8,151.4 C1886.4,153.2 1876.9,154.9 1869.6,154.9 C1862.2,154.9 1854.1,153.5 1848.7,151.4 C1843.3,149.3 1839.2,145.4 1837.1,142.1 C1835.0,138.8 1834.8,135.0 1836.0,131.7Z" fill="#dc5836" stroke="#060606" stroke-width="5.2" stroke-linejoin="round" stroke-linecap="round" />
<ellipse cx="1962.5" cy="95.5" rx="37.5" ry="25.0" transform="rotate(62.0 1962.5 95.5)" fill="#dc5836" stroke="#060606" stroke-width="5.2"/>
<polygon points="1880.1,120.0 1896.3,120.0 1887.0,103.2" fill="#b3261a" stroke="none" stroke-width="0" stroke-linejoin="round"/>
<polygon points="1984.2,83.4 2000.3,83.4 1990.7,101.1" fill="#b3261a" stroke="none" stroke-width="0" stroke-linejoin="round"/>
<polygon points="1905.7,187.1 1926.4,187.1 1915.7,169.3" fill="#b3261a" stroke="none" stroke-width="0" stroke-linejoin="round"/>
<path d="M1782.7,310.5 C1782.7,312.7 1783.8,320.5 1782.7,323.9 C1781.7,327.3 1779.1,329.5 1776.4,331.0 C1773.7,332.5 1768.2,332.6 1766.6,332.9" fill="none" stroke="#060606" stroke-width="8.5" stroke-linejoin="round" stroke-linecap="round" />
<path d="M1782.7,310.5 C1782.7,312.7 1783.8,320.5 1782.7,323.9 C1781.7,327.3 1779.1,329.5 1776.4,331.0 C1773.7,332.5 1768.2,332.6 1766.6,332.9" fill="none" stroke="#fff" stroke-width="3.5" stroke-linejoin="round" stroke-linecap="round" />
<path d="M1796.0,310.5 C1796.3,313.8 1797.2,325.3 1797.9,330.2 C1798.7,335.1 1799.2,338.1 1800.5,340.0 C1801.8,341.9 1805.0,341.5 1805.9,341.8" fill="none" stroke="#060606" stroke-width="9" stroke-linejoin="round" stroke-linecap="round" />
<path d="M1796.0,310.5 C1796.3,313.8 1797.2,325.3 1797.9,330.2 C1798.7,335.1 1799.2,338.1 1800.5,340.0 C1801.8,341.9 1805.0,341.5 1805.9,341.8" fill="none" stroke="#fff" stroke-width="3.8" stroke-linejoin="round" stroke-linecap="round" />
<polygon points="1751.0,314.6 1769.3,316.8 1759.9,332.0" fill="#b3261a" stroke="none" stroke-width="0" stroke-linejoin="round"/>
<circle cx="1756.2" cy="446.2" r="79.5" fill="#e9bdac" stroke="#060606" stroke-width="4.8"/>
<polyline points="1743.5,342.5 1759.5,367.0 1777.5,343.5" fill="none" stroke="#060606" stroke-width="8.5" stroke-linecap="butt" stroke-linejoin="miter"/>
<polyline points="1759.5,367.0 1759.5,385.5" fill="none" stroke="#060606" stroke-width="8.5" stroke-linecap="butt" stroke-linejoin="miter"/>
<text x="1735.78" y="451.6" font-size="52.91" font-weight="normal" textLength="30.36" lengthAdjust="spacingAndGlyphs" fill="#111" stroke="#111" stroke-width="1.0">T</text>
<text x="1757.60" y="453.4" font-size="32.70" font-weight="normal" textLength="19.31" lengthAdjust="spacingAndGlyphs" fill="#111" stroke="#111" stroke-width="1.0">4</text>
<polyline points="1692.5,532.5 1716.1,518.6 1719.3,550.2" fill="none" stroke="#060606" stroke-width="7.5" stroke-linecap="butt" stroke-linejoin="miter"/>
<polyline points="1716.1,518.6 1726.8,503.0" fill="none" stroke="#060606" stroke-width="7.5" stroke-linecap="butt" stroke-linejoin="miter"/>
<polyline points="1844.3,516.8 1810.0,503.0 1817.5,534.6" fill="none" stroke="#060606" stroke-width="7.5" stroke-linecap="butt" stroke-linejoin="miter"/>
<polyline points="1810.0,503.0 1805.0,491.8" fill="none" stroke="#060606" stroke-width="7.5" stroke-linecap="butt" stroke-linejoin="miter"/>
<polygon points="1826.4,525.7 1826.4,543.6 1844.3,534.6" fill="#b3261a" stroke="none" stroke-width="0" stroke-linejoin="round"/>
<polygon points="1681.8,550.7 1699.5,543.8 1698.4,563.6" fill="#b3261a" stroke="none" stroke-width="0" stroke-linejoin="round"/>
<circle cx="1626.2" cy="638.2" r="79.0" fill="#fff" stroke="#060606" stroke-width="4.2"/>
<text x="1608.17" y="634.6" font-size="49.27" font-weight="normal" textLength="38.47" lengthAdjust="spacingAndGlyphs" fill="#111" stroke="#111" stroke-width="0.5">B</text>
<text x="0" y="0" font-size="26.16" font-weight="normal" letter-spacing="3.008" fill="#111" stroke="#111" stroke-width="0.90" transform="translate(1577.33 667.90) scale(0.7800 1)">classe</text>
<text x="0" y="0" font-size="26.16" font-weight="normal" letter-spacing="6.069" fill="#111" stroke="#111" stroke-width="0.90" transform="translate(1658.23 667.90) scale(0.9000 1)">II</text>
<polyline points="1646.4,572.7 1668.9,546.4" fill="none" stroke="#060606" stroke-width="4.6" stroke-linecap="butt" stroke-linejoin="miter"/>
<polyline points="1651.8,545.4 1665.7,532.5" fill="none" stroke="#060606" stroke-width="4.6" stroke-linecap="butt" stroke-linejoin="miter"/>
<polyline points="1655.0,541.0 1666.0,550.0" fill="none" stroke="#060606" stroke-width="4.6" stroke-linecap="butt" stroke-linejoin="miter"/>
<polyline points="1659.3,582.9 1682.9,555.0" fill="none" stroke="#060606" stroke-width="4.6" stroke-linecap="butt" stroke-linejoin="miter"/>
<polyline points="1680.7,571.0 1693.6,558.2" fill="none" stroke="#060606" stroke-width="4.6" stroke-linecap="butt" stroke-linejoin="miter"/>
<polyline points="1672.9,561.4 1688.0,567.0" fill="none" stroke="#060606" stroke-width="4.6" stroke-linecap="butt" stroke-linejoin="miter"/>
<path d="M1703.2,555.0 C1704.1,556.1 1707.9,558.2 1708.6,561.4 C1709.3,564.6 1709.8,569.1 1707.5,574.3 C1705.2,579.5 1696.8,589.5 1694.6,592.5" fill="none" stroke="#060606" stroke-width="8.5" stroke-linejoin="round" stroke-linecap="round" />
<path d="M1703.2,555.0 C1704.1,556.1 1707.9,558.2 1708.6,561.4 C1709.3,564.6 1709.8,569.1 1707.5,574.3 C1705.2,579.5 1696.8,589.5 1694.6,592.5" fill="none" stroke="#fff" stroke-width="3.5" stroke-linejoin="round" stroke-linecap="round" />
<path d="M1695.7,595.7 C1698.0,593.4 1704.9,585.7 1709.6,581.8 C1714.2,577.9 1718.0,573.5 1723.6,572.1 C1729.1,570.7 1739.7,573.0 1742.9,573.2" fill="none" stroke="#060606" stroke-width="8.5" stroke-linejoin="round" stroke-linecap="round" />
<path d="M1695.7,595.7 C1698.0,593.4 1704.9,585.7 1709.6,581.8 C1714.2,577.9 1718.0,573.5 1723.6,572.1 C1729.1,570.7 1739.7,573.0 1742.9,573.2" fill="none" stroke="#fff" stroke-width="3.5" stroke-linejoin="round" stroke-linecap="round" />
<circle cx="1898.2" cy="635.5" r="80.0" fill="#fff" stroke="#060606" stroke-width="4.2"/>
<text x="1871.08" y="651.9" font-size="53.20" font-weight="normal" textLength="30.36" lengthAdjust="spacingAndGlyphs" fill="#111" stroke="#111" stroke-width="1.0">T</text>
<text x="1895.85" y="653.7" font-size="32.70" font-weight="normal" textLength="21.10" lengthAdjust="spacingAndGlyphs" fill="#111" stroke="#111" stroke-width="1.0">8</text>
<polyline points="1985.7,708.6 1954.3,700.0 1962.9,729.3" fill="none" stroke="#060606" stroke-width="7.5" stroke-linecap="butt" stroke-linejoin="miter"/>
<polyline points="1954.3,700.0 1943.6,689.3" fill="none" stroke="#060606" stroke-width="7.5" stroke-linecap="butt" stroke-linejoin="miter"/>
<polygon points="1977.1,733.6 1993.6,740.0 1981.4,752.9" fill="#b3261a" stroke="none" stroke-width="0" stroke-linejoin="round"/>
<ellipse cx="2016.2" cy="776.3" rx="61.0" ry="38.5" transform="rotate(-48.3 2016.2 776.3)" fill="#fff" stroke="#060606" stroke-width="4.4"/>
<text x="0" y="0" font-size="28.05" font-weight="bold" letter-spacing="0.000" fill="#111" stroke="#111" stroke-width="0.40" transform="translate(1982.03 777.70) scale(0.7917 1)">classe</text>
<text x="0" y="0" font-size="29.07" font-weight="bold" letter-spacing="0.000" fill="#111" stroke="#111" stroke-width="0.40" transform="translate(2003.41 812.50) scale(1.0747 1)">I</text>
<path d="M1971,773 C1958,768 1950,758 1953,748 C1957,737 1970,733 1980,735" fill="none" stroke="#060606" stroke-width="8" stroke-linejoin="round" stroke-linecap="round" />
<path d="M1971,773 C1958,768 1950,758 1953,748 C1957,737 1970,733 1980,735" fill="none" stroke="#fff" stroke-width="3.2" stroke-linejoin="round" stroke-linecap="round" />
<circle cx="1973.4" cy="753.0" r="4.6" fill="#fff" stroke="#060606" stroke-width="3"/>
<polyline points="1594.0,838.4 1613.0,815.0 1630.0,838.4" fill="none" stroke="#060606" stroke-width="7" stroke-linecap="butt" stroke-linejoin="miter"/>
<polyline points="1613.0,815.0 1613.0,795.5" fill="none" stroke="#060606" stroke-width="7" stroke-linecap="butt" stroke-linejoin="miter"/>
<text x="0" y="0" font-size="38.52" font-weight="bold" letter-spacing="1.435" fill="#111" stroke="#111" stroke-width="0.30" transform="translate(1653.25 837.50) scale(0.6800 1)">Récepteur</text>
<polyline points="1604.0,852.0 1604.5,889.6" fill="none" stroke="#060606" stroke-width="4" stroke-linecap="butt" stroke-linejoin="miter"/>
<polyline points="1591.5,853.0 1591.5,871.6" fill="none" stroke="#060606" stroke-width="4" stroke-linecap="butt" stroke-linejoin="miter"/>
<polyline points="1591.5,863.0 1604.0,863.0" fill="none" stroke="#060606" stroke-width="4" stroke-linecap="butt" stroke-linejoin="miter"/>
<polyline points="1618.6,852.0 1618.6,889.6" fill="none" stroke="#060606" stroke-width="4" stroke-linecap="butt" stroke-linejoin="miter"/>
<polyline points="1630.8,853.0 1630.8,871.6" fill="none" stroke="#060606" stroke-width="4" stroke-linecap="butt" stroke-linejoin="miter"/>
<polyline points="1618.6,864.0 1630.8,864.0" fill="none" stroke="#060606" stroke-width="4" stroke-linecap="butt" stroke-linejoin="miter"/>
<text x="0" y="0" font-size="39.10" font-weight="bold" letter-spacing="0.709" fill="#111" stroke="#111" stroke-width="0.30" transform="translate(1653.22 886.90) scale(0.6800 1)">Immunoglobuline</text>
<path d="M1605.0,936.0 C1604.7,933.3 1604.2,925.0 1603.0,920.0 C1601.8,915.0 1599.3,909.3 1598.0,906.0 C1596.7,902.7 1595.5,901.0 1595.0,900.0" fill="none" stroke="#060606" stroke-width="10" stroke-linejoin="round" stroke-linecap="round" />
<path d="M1605.0,936.0 C1604.7,933.3 1604.2,925.0 1603.0,920.0 C1601.8,915.0 1599.3,909.3 1598.0,906.0 C1596.7,902.7 1595.5,901.0 1595.0,900.0" fill="none" stroke="#fff" stroke-width="4.5" stroke-linejoin="round" stroke-linecap="round" />
<path d="M1616.0,936.0 C1616.3,933.3 1616.8,925.0 1618.0,920.0 C1619.2,915.0 1621.0,909.3 1623.0,906.0 C1625.0,902.7 1628.8,901.0 1630.0,900.0" fill="none" stroke="#060606" stroke-width="10" stroke-linejoin="round" stroke-linecap="round" />
<path d="M1616.0,936.0 C1616.3,933.3 1616.8,925.0 1618.0,920.0 C1619.2,915.0 1621.0,909.3 1623.0,906.0 C1625.0,902.7 1628.8,901.0 1630.0,900.0" fill="none" stroke="#fff" stroke-width="4.5" stroke-linejoin="round" stroke-linecap="round" />
<text x="0" y="0" font-size="38.23" font-weight="bold" letter-spacing="0.931" fill="#111" stroke="#111" stroke-width="0.30" transform="translate(1654.53 936.25) scale(0.6800 1)">Classe  II</text>
<path d="M1602.0,987.0 C1601.9,985.0 1601.0,979.0 1601.5,975.0 C1602.0,971.0 1602.9,965.8 1605.0,963.0 C1607.1,960.2 1611.2,959.2 1614.0,958.0 C1616.8,956.8 1620.7,956.3 1622.0,956.0" fill="none" stroke="#060606" stroke-width="10" stroke-linejoin="round" stroke-linecap="round" />
<path d="M1602.0,987.0 C1601.9,985.0 1601.0,979.0 1601.5,975.0 C1602.0,971.0 1602.9,965.8 1605.0,963.0 C1607.1,960.2 1611.2,959.2 1614.0,958.0 C1616.8,956.8 1620.7,956.3 1622.0,956.0" fill="none" stroke="#fff" stroke-width="4.5" stroke-linejoin="round" stroke-linecap="round" />
<text x="0" y="0" font-size="39.24" font-weight="bold" letter-spacing="0.108" fill="#111" stroke="#111" stroke-width="0.30" transform="translate(1651.91 986.90) scale(0.6800 1)">Classe  I</text>
<polygon points="1596.5,1033.0 1617.8,1033.0 1607.3,1014.7" fill="#b3261a" stroke="none" stroke-width="0" stroke-linejoin="round"/>
<text x="0" y="0" font-size="39.53" font-weight="bold" letter-spacing="0.795" fill="#111" stroke="#111" stroke-width="0.30" transform="translate(1656.13 1034.20) scale(0.6800 1)">Antigène</text>
<text x="1560.90" y="1083.0" font-size="45.78" font-weight="normal" textLength="41.59" lengthAdjust="spacingAndGlyphs" fill="#111" stroke="#111" stroke-width="0.5">M</text>
<text x="1598.21" y="1083.0" font-size="47.97" font-weight="normal" textLength="38.95" lengthAdjust="spacingAndGlyphs" fill="#111" stroke="#111" stroke-width="0.5">Φ</text>
<text x="0" y="0" font-size="39.53" font-weight="bold" letter-spacing="1.547" fill="#111" stroke="#111" stroke-width="0.30" transform="translate(1657.60 1084.00) scale(0.6800 1)">Macrophage</text>
</svg></body></html>
